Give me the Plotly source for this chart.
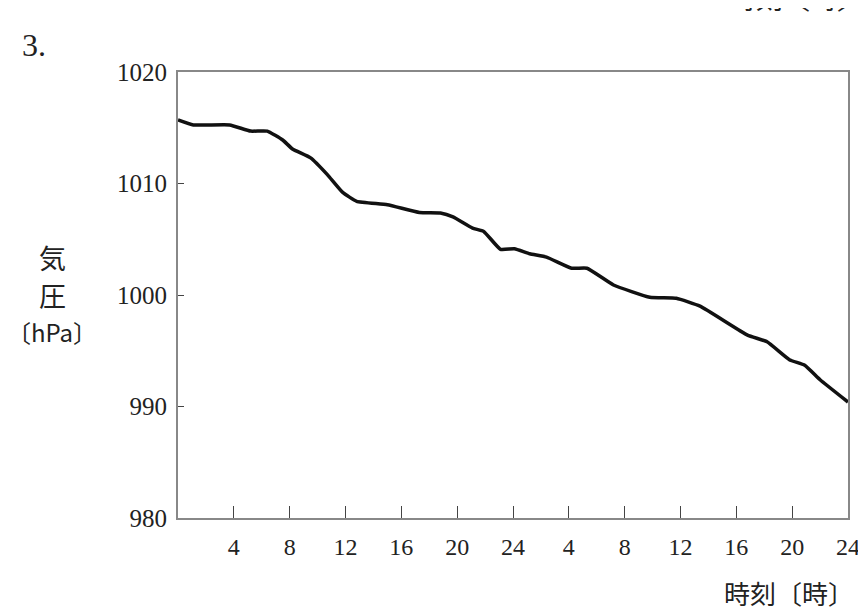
import plotly.graph_objects as go

hours = [0, 1.1, 3.7, 5.2, 6.4, 7.5, 8.2, 9.5, 10.7, 11.8, 12.8, 15.0, 17.3, 18.8, 19.7,
         21.1, 21.9, 23.1, 24.1, 25.2, 26.4, 28.2, 29.3, 31.2, 33.8, 35.7, 37.4,
         40.8, 42.2, 43.8, 44.9, 46.0, 48.0]
pressure = [1015.7, 1015.25, 1015.25, 1014.7, 1014.7, 1013.9, 1013.1, 1012.3, 1010.8, 1009.2,
            1008.4, 1008.1, 1007.4, 1007.35, 1007.0, 1006.0, 1005.7, 1004.1, 1004.15,
            1003.7, 1003.4, 1002.4, 1002.4, 1000.9, 999.8, 999.7, 999.0, 996.4, 995.8,
            994.2, 993.7, 992.4, 990.4]

x_tickvals = [4, 8, 12, 16, 20, 24, 28, 32, 36, 40, 44, 48]
x_ticktext = ["4", "8", "12", "16", "20", "24", "4", "8", "12", "16", "20", "24"]
y_tickvals = [980, 990, 1000, 1010, 1020]

SERIF = "Liberation Serif, DejaVu Serif, serif"
JP = "Noto Sans CJK JP"

fig = go.Figure()
fig.add_trace(go.Scatter(x=hours, y=pressure, mode="lines",
                         line=dict(color="#111111", width=3.5, shape="spline", smoothing=0.4),
                         hoverinfo="skip", showlegend=False))

fig.update_layout(
    width=866, height=612,
    margin=dict(l=170, r=26, t=64, b=102),
    paper_bgcolor="white", plot_bgcolor="white",
    xaxis=dict(range=[0, 48], tickvals=x_tickvals, ticktext=x_ticktext,
               ticks="inside", ticklen=12, tickcolor="#444", tickwidth=1.2,
               showline=True, linecolor="#888", linewidth=2, mirror=True,
               showgrid=False, zeroline=False, ticklabelstandoff=6,
               tickfont=dict(family=SERIF, size=24, color="#222")),
    yaxis=dict(range=[980, 1020], tickvals=y_tickvals,
               ticks="inside", ticklen=6, tickcolor="#444", tickwidth=1.2,
               showline=True, linecolor="#888", linewidth=2, mirror=True,
               showgrid=False, zeroline=False, ticklabelstandoff=4,
               tickfont=dict(family=SERIF, size=25, color="#222")),
)

fig.update_layout(annotations=[
    dict(text="3.", xref="paper", yref="paper", x=-0.236, y=1.06, xanchor="left", yanchor="middle",
         showarrow=False, font=dict(family=SERIF, size=32, color="#222")),
    dict(text="気", xref="paper", yref="paper", x=-0.188, y=0.583,
         xanchor="center", yanchor="middle", showarrow=False,
         font=dict(family=JP, size=27, color="#222")),
    dict(text="圧", xref="paper", yref="paper", x=-0.188, y=0.50,
         xanchor="center", yanchor="middle", showarrow=False,
         font=dict(family=JP, size=27, color="#222")),
    dict(text="〔hPa〕", xref="paper", yref="paper", x=-0.188, y=0.418,
         xanchor="center", yanchor="middle", showarrow=False,
         font=dict(family=JP, size=24, color="#222")),
    dict(text="時刻〔時〕", xref="paper", yref="paper", x=1.012, y=-0.167,
         xanchor="right", yanchor="middle", showarrow=False,
         font=dict(family=JP, size=26, color="#222")),
    dict(text="時刻〔時〕", xref="paper", yref="paper", x=1.027, y=1.168,
         xanchor="right", yanchor="middle", showarrow=False,
         font=dict(family=JP, size=27, color="#222")),
])

fig.write_html("out.html")
